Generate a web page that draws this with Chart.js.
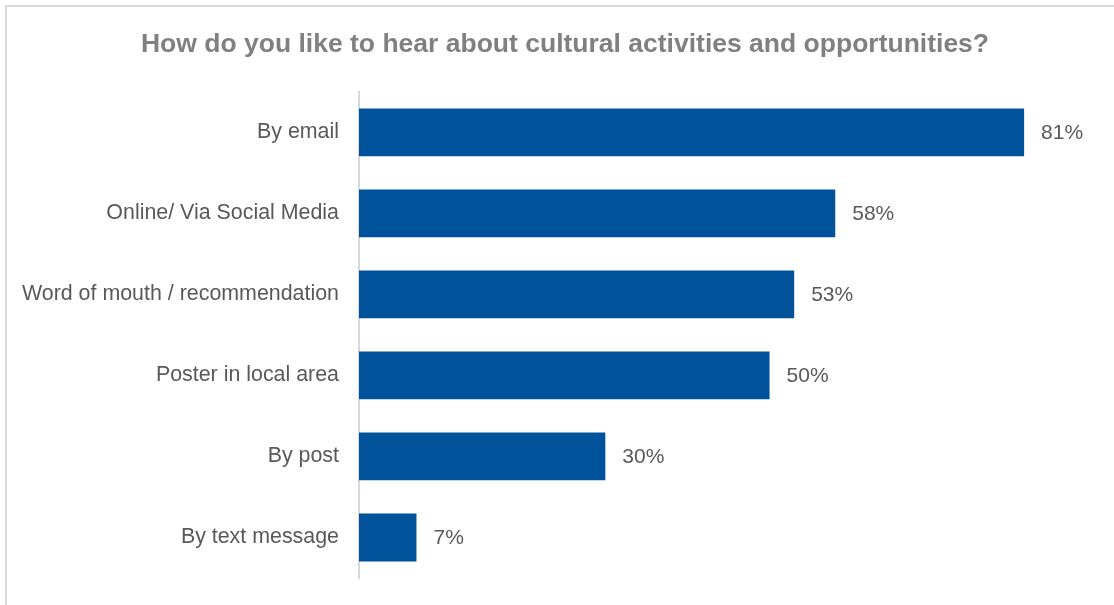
<!DOCTYPE html>
<html>
<head>
<meta charset="utf-8">
<script src="https://cdn.jsdelivr.net/npm/chart.js@4/dist/chart.umd.min.js"></script>
<style>
    html, body { margin: 0; padding: 0; background: #ffffff; overflow: hidden; }
    .frame {
        position: absolute;
        left: 5px;
        top: 5px;
        width: 1107px;
        height: 598px;
        border-top: 2px solid #d9d9d9;
        border-left: 2px solid #d9d9d9;
    }
    canvas { display: block; }
</style>
</head>
<body>
<div class="frame">
    <canvas id="channelChart" width="1107" height="598"></canvas>
</div>
<script>
// Survey answers, share of respondents (%)
const channels = [
    'By email',
    'Online/ Via Social Media',
    'Word of mouth / recommendation',
    'Poster in local area',
    'By post',
    'By text message'
];
const shares = [81, 58, 53, 50, 30, 7];
const chartTitle = 'How do you like to hear about cultural activities and opportunities?';

const FONT = "'Liberation Sans', Arial, sans-serif";

// Writes the percentage just past the end of each bar
const barValueLabels = {
    id: 'barValueLabels',
    afterDatasetsDraw(chart) {
        const ctx = chart.ctx;
        const meta = chart.getDatasetMeta(0);
        ctx.save();
        ctx.font = '21px ' + FONT;
        ctx.fillStyle = '#595959';
        ctx.textAlign = 'left';
        ctx.textBaseline = 'middle';
        meta.data.forEach(function (bar, i) {
            ctx.fillText(shares[i] + '%', bar.x + 17, bar.y + 1);
        });
        ctx.restore();
    }
};

// Title sits a little right of the canvas centre
const titleNudge = {
    id: 'titleNudge',
    afterLayout(chart) {
        if (chart.titleBlock) {
            chart.titleBlock.left += 25;
        }
    }
};

document.addEventListener('DOMContentLoaded', function () {
    const canvas = document.getElementById('channelChart');
    const ctx = canvas.getContext('2d');

    new Chart(ctx, {
        type: 'bar',
        data: {
            labels: channels,
            datasets: [{
                data: shares,
                backgroundColor: '#00529b',
                borderWidth: 0,
                barPercentage: 1,
                categoryPercentage: 0.59
            }]
        },
        options: {
            indexAxis: 'y',
            responsive: false,
            animation: false,
            layout: {
                padding: { left: 0, right: 16, top: 0, bottom: 27 }
            },
            plugins: {
                legend: { display: false },
                tooltip: { enabled: false },
                title: {
                    display: true,
                    text: chartTitle,
                    color: '#808080',
                    font: { family: FONT, size: 26.5, weight: 'bold', lineHeight: 1.2 },
                    padding: { top: 22, bottom: 31 }
                }
            },
            scales: {
                x: {
                    display: false,
                    min: 0,
                    max: 90
                },
                y: {
                    // tick marks are hidden, their length just spaces the labels off the axis
                    grid: { display: false, drawTicks: true, tickLength: 20 },
                    border: { display: true, color: '#d9d9d9', width: 2 },
                    ticks: {
                        color: '#595959',
                        padding: 0,
                        font: { family: FONT, size: 21.4 }
                    },
                    afterFit: function (scale) {
                        scale.width = 352;
                    }
                }
            }
        },
        plugins: [barValueLabels, titleNudge]
    });
});
</script>
</body>
</html>
